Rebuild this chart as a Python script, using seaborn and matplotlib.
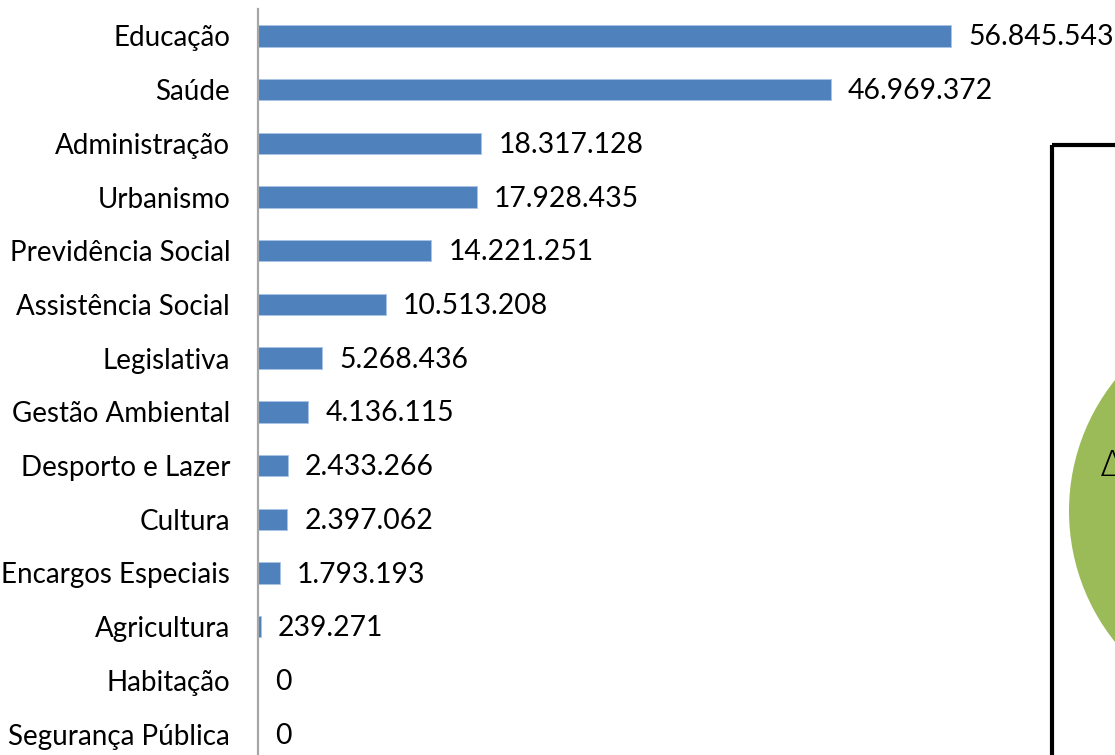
import matplotlib
matplotlib.use("Agg")
import matplotlib.pyplot as plt
import seaborn as sns
import pandas as pd
from matplotlib.patches import Rectangle, Circle

categories = ["Educação", "Saúde", "Administração", "Urbanismo", "Previdência Social",
              "Assistência Social", "Legislativa", "Gestão Ambiental", "Desporto e Lazer",
              "Cultura", "Encargos Especiais", "Agricultura", "Habitação", "Segurança Pública"]
values = [56845543, 46969372, 18317128, 17928435, 14221251, 10513208, 5268436,
          4136115, 2433266, 2397062, 1793193, 239271, 0, 0]

sns.set_theme(style="white")
plt.rcParams['font.family'] = ['Lato', 'DejaVu Sans']

W, H = 1115, 755
fig = plt.figure(figsize=(W / 100, H / 100), dpi=100)
ax = fig.add_axes([258 / W, -6 / H, (W - 258) / W, 752 / H])

df = pd.DataFrame({"cat": categories, "val": values})
sns.barplot(data=df, y="cat", x="val", orient="h", color="#4F81BD", width=0.4,
            edgecolor="#A9C4E6", linewidth=0.6, saturation=1, ax=ax)

px = 56845543 / 693.0
ax.set_xlim(0, (W - 258) * px)
ax.set_ylim(len(categories) - 0.5, -0.5)
ax.set_xlabel("")
ax.set_ylabel("")
ax.set_xticks([])
ax.tick_params(axis="y", length=0, pad=20, labelsize=20, colors="#000000")
for s in ["top", "right", "bottom"]:
    ax.spines[s].set_visible(False)
ax.spines["left"].set_color("#A6A6A6")
ax.spines["left"].set_linewidth(1.6)

for i, v in enumerate(values):
    label = f"{v:,}".replace(",", ".")
    ax.text(v + 17 * px, i + 0.03, label, va="center", ha="left", fontsize=20.4, color="#000000")

# overlay for the cut-off box and circle on the right
ov = fig.add_axes([0, 0, 1, 1], zorder=5)
ov.set_xlim(0, W)
ov.set_ylim(H, 0)
ov.axis("off")
ov.patch.set_alpha(0)
ov.add_patch(Circle((1278.5, 511), 209.5, facecolor="#9BBB59", edgecolor="none"))
ov.add_patch(Rectangle((1052, 145), 300, 700, facecolor="none", edgecolor="#000000",
                       linewidth=3.0, joinstyle="round"))
ov.text(1100, 466, "Δ", fontsize=26, ha="left", va="center", color="#000000",
        family=['DejaVu Sans'], fontweight="light")

fig.savefig("out.png", dpi=100)
